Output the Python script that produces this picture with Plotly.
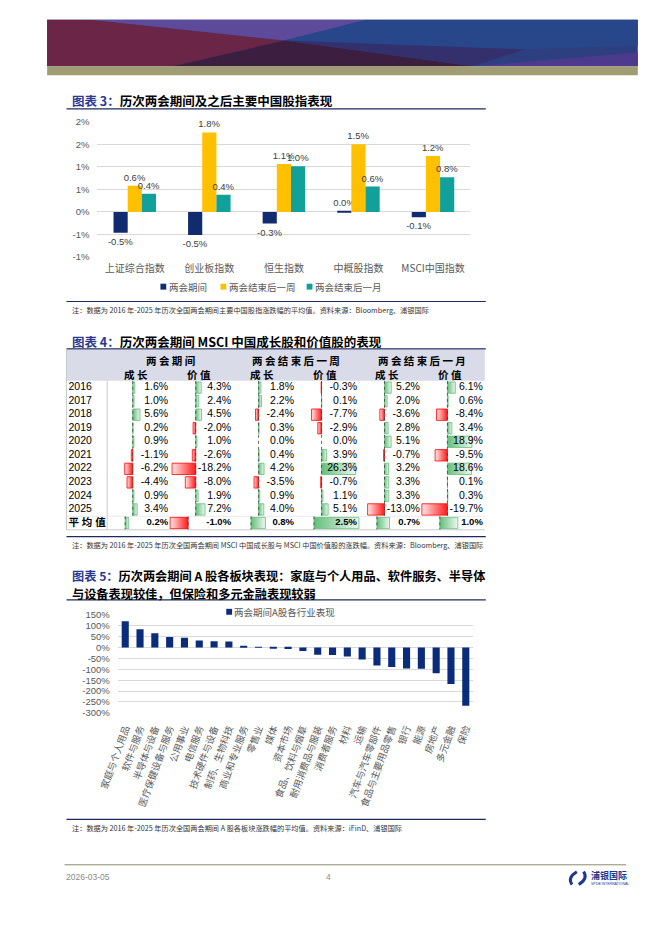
import plotly.graph_objects as go

# ======================= DATA =======================
# Figure 3: average index performance (%)
index_names = ["上证综合指数", "创业板指数", "恒生指数", "中概股指数", "MSCI中国指数"]
series1_names = ["两会期间", "两会结束后一周", "两会结束后一月"]
idx_during = [-0.46, -0.51, -0.26, 0.02, -0.12]
idx_week = [0.58, 1.76, 1.06, 1.50, 1.24]
idx_month = [0.40, 0.38, 1.01, 0.56, 0.77]
y1_tickvals = [-1.0, -0.5, 0.0, 0.5, 1.0, 1.5, 2.0]
y1_ticktext = ["-1%", "-1%", "0%", "1%", "1%", "2%", "2%"]

# Figure 4: MSCI China growth / value (%)
years = ["2016", "2017", "2018", "2019", "2020", "2021", "2022", "2023", "2024", "2025"]
group_headers = ["两 会 期 间", "两 会 结 束 后 一 周", "两 会 结 束 后 一 月"]
sub_headers = ["成 长", "价 值"]
growth_during = [1.6, 1.0, 5.6, 0.2, 0.9, -1.1, -6.2, -4.4, 0.9, 3.4]
value_during = [4.3, 2.4, 4.5, -2.0, 1.0, -2.6, -18.2, -8.0, 1.9, 7.2]
growth_week = [1.8, 2.2, -2.4, 0.3, 0.0, 0.4, 4.2, -3.5, 0.9, 4.0]
value_week = [-0.3, 0.1, -7.7, -2.9, 0.0, 3.9, 26.3, -0.7, 1.1, 5.1]
growth_month = [5.2, 2.0, -3.6, 2.8, 5.1, -0.7, 3.2, 3.3, 3.3, -13.0]
value_month = [6.1, 0.6, -8.4, 3.4, 18.9, -9.5, 18.6, 0.1, 0.3, -19.7]
avg_label = "平 均 值"
averages = [0.2, -1.0, 0.8, 2.5, 0.7, 1.0]

# Figure 5: A-share sectors (%)
sectors = ["家庭与个人用品", "软件与服务", "半导体与设备", "医疗保健设备与服务", "公用事业",
           "电信服务", "技术硬件与设备", "制药、生物科技", "商业和专业服务", "零售业", "媒体",
           "资本市场", "食品、饮料与烟草", "耐用消费品与服装", "消费者服务", "材料", "运输",
           "汽车与汽车零部件", "食品与主要用品零售", "银行", "能源", "房地产", "多元金融", "保险"]
sector_values = [120, 83, 65, 48, 45, 32, 29, 27, 5, 1, -2, -7, -16, -33, -35, -41, -55,
                 -83, -89, -97, -98, -118, -167, -267]
y3_tickvals = [150, 100, 50, 0, -50, -100, -150, -200, -250, -300]
y3_ticktext = [f"{v}%" for v in y3_tickvals]

# ======================= STYLE / LAYOUT =======================
W, H = 662, 936
CJK = "Noto Sans CJK SC"
LAT = "Liberation Sans, Noto Sans CJK SC"
NAVY_LINE = "#1F2A5A"
TITLE_BLUE = "#2B3990"


def fx(x):
    return x / W


def fy(y):
    return 1 - y / H


fig = go.Figure()
shapes = []
annotations = []


def ann(x, y, text, size, color="#000000", xanchor="left", family=CJK, yanchor="middle"):
    annotations.append(dict(x=fx(x), y=fy(y), xref="paper", yref="paper", text=text,
                            showarrow=False, xanchor=xanchor, yanchor=yanchor, borderpad=0,
                            align="left", font=dict(size=size, color=color, family=family)))


def hline(x0, x1, y, color=NAVY_LINE, width=1.2):
    shapes.append(dict(type="line", xref="paper", yref="paper", x0=fx(x0), x1=fx(x1),
                       y0=fy(y), y1=fy(y), line=dict(color=color, width=width)))


def vline(x, y0, y1, color="#BFBFBF", width=0.8):
    shapes.append(dict(type="line", xref="paper", yref="paper", x0=fx(x), x1=fx(x),
                       y0=fy(y0), y1=fy(y1), line=dict(color=color, width=width)))


def poly(pts, color):
    path = "M" + " L".join(f"{fx(a):.5f},{fy(b):.5f}" for a, b in pts) + " Z"
    shapes.append(dict(type="path", xref="paper", yref="paper", path=path,
                       fillcolor=color, line=dict(width=0), layer="below"))


def rect(x0, y0, x1, y1, color):
    shapes.append(dict(type="rect", xref="paper", yref="paper", x0=fx(x0), x1=fx(x1),
                       y0=fy(y1), y1=fy(y0), fillcolor=color,
                       line=dict(width=0), layer="below"))


# ---------------- header banner ----------------
BX0, BX1 = 27, 637
rect(BX0, 14, BX1, 61, "#2E3F80")
poly([(BX0, 14), (72, 14), (272, 35), (157, 61), (BX0, 61)], "#6A2547")
poly([(72, 14), (357, 14), (272, 35)], "#5D4A9B")
poly([(357, 14), (BX1, 14), (BX1, 40), (520, 44), (272, 35)], "#27478A")
poly([(157, 61), (272, 35), (467, 61)], "#3C1F40")
poly([(272, 35), (520, 44), (467, 61)], "#34306E")
poly([(467, 61), (BX1, 47), (BX1, 61)], "#4C3A8C")
rect(BX0, 61, BX1, 70, "#A09C74")

# ---------------- section titles & lines ----------------
ann(52, 96, f"<b><span style='color:{TITLE_BLUE}'>图表 3：</span>历次两会期间及之后主要中国股指表现</b>", 12.5)
hline(47, 480, 104)
hline(47, 480, 299)
ann(52, 308, "注：数据为 2016 年-2025 年历次全国两会期间主要中国股指涨跌幅的平均值。资料来源：Bloomberg、浦银国际", 7.2, "#333333")

ann(52, 339, f"<b><span style='color:{TITLE_BLUE}'>图表 4：</span>历次两会期间 MSCI 中国成长股和价值股的表现</b>", 12.5)
hline(47, 480, 347)
hline(47, 480, 537)
ann(52, 545, "注：数据为 2016 年-2025 年历次全国两会期间 MSCI 中国成长股与 MSCI 中国价值股的涨跌幅。资料来源：Bloomberg、浦银国际", 7.2, "#333333")

ann(52, 576.5, f"<b><span style='color:{TITLE_BLUE}'>图表 5：</span>历次两会期间 A 股各板块表现：家庭与个人用品、软件服务、半导体</b>", 12.2)
ann(52, 594.5, "<b>与设备表现较佳，但保险和多元金融表现较弱</b>", 12.2)
hline(47, 480, 601)
hline(47, 480, 823)
ann(52, 832, "注：数据为 2016 年-2025 年历次全国两会期间 A 股各板块涨跌幅的平均值。资料来源：iFinD、浦银国际", 7.2, "#333333")

# ---------------- Chart 1 (figure 3) ----------------
colors1 = ["#102B6E", "#FFC000", "#12A09A"]
for name, vals, col in zip(series1_names, [idx_during, idx_week, idx_month], colors1):
    fig.add_trace(go.Bar(
        x=index_names, y=vals, name=name, marker=dict(color=col, line=dict(width=0)),
        text=[f"{v:.1f}%" for v in vals], textposition="outside", constraintext="none",
        textfont=dict(size=9.5, color="#404040", family=LAT), cliponaxis=False,
        xaxis="x", yaxis="y", showlegend=False, hoverinfo="skip"))

# manual legend for chart 1
leg1_x = [147, 209, 298]
for name, col, x in zip(series1_names, colors1, leg1_x):
    rect(x - 3, 281, x + 3, 287, col)
    ann(x + 5, 284, name, 9.5, "#595959")

# ---------------- Table (figure 4) ----------------
TX0, TX1 = 47, 479
YEARW, CELLW = 42, 65
PX_PER_UNIT = 1.34
COLW = CELLW / PX_PER_UNIT
YEARU = YEARW / PX_PER_UNIT
TY0, ROWH = 379.3, 13.7
NROWS = len(years) + 1
TY1 = TY0 + NROWS * ROWH

table_cols = [growth_during, value_during, growth_week, value_week, growth_month, value_month]
all_vals = [v for c in table_cols for v in c]
axis_off = -min(all_vals)
avg_scale = COLW / (max(averages) - min(averages))
avg_axis = -min(averages) * avg_scale

# header background
rect(TX0, 348, TX1, TY0, "#D9DCE8")
for g, name in enumerate(group_headers):
    cx = TX0 + YEARW + CELLW * (2 * g + 1)
    ann(cx, 358.5, f"<b>{name}</b>", 10.5, "#000000", xanchor="center")
    for s, sub in enumerate(sub_headers):
        sx = TX0 + YEARW + CELLW * (2 * g + s) + CELLW / 2 - 3
        ann(sx, 372.5, f"<b>{sub}</b>", 10.5, "#000000", xanchor="center")

# borders
vline(TX0, 348, TY1)
vline(TX0 + YEARW, TY0, TY1)
hline(TX0, TX1, TY1, color="#BFBFBF", width=0.8)
hline(TX0, TX1, TY0 + (NROWS - 1) * ROWH, color="#D9D9D9", width=0.6)

HB = 0.42


def data_bar(x0, x1, r):
    pos = x1 > x0
    lo, hi = min(x0, x1), max(x0, x1)
    if pos:
        scale = [[0, "#63BE7B"], [1, "#EEF8F1"]]
        edge = "#63BE7B"
    else:
        scale = [[0, "#FFE8E8"], [1, "#FF1A1A"]]
        edge = "#FF0000"
    fig.add_trace(go.Scatter(
        x=[lo, hi, hi, lo, lo], y=[r - HB, r - HB, r + HB, r + HB, r - HB],
        mode="lines", fill="toself", line=dict(color=edge, width=0.8),
        fillgradient=dict(type="horizontal", colorscale=scale),
        xaxis="x2", yaxis="y2", showlegend=False, hoverinfo="skip"))


for k, col in enumerate(table_cols):
    base = k * COLW + axis_off
    for r, v in enumerate(col):
        if v != 0:
            data_bar(base, base + v, r)
    shapes.append(dict(type="line", xref="x2", yref="y2", x0=base, x1=base, y0=-0.5,
                       y1=len(years) - 0.5, line=dict(color="#404040", width=0.8, dash="dot")))
for k, v in enumerate(averages):
    base = k * COLW + avg_axis
    r = len(years)
    if v != 0:
        data_bar(base, base + v * avg_scale, r)
    shapes.append(dict(type="line", xref="x2", yref="y2", x0=base, x1=base, y0=r - 0.5,
                       y1=r + 0.5, line=dict(color="#404040", width=0.8, dash="dot")))

# numbers
for k, col in enumerate(table_cols):
    fig.add_trace(go.Scatter(
        x=[(k + 1) * COLW - 1.5] * len(col), y=list(range(len(col))),
        text=[f"{v:.1f}%" for v in col], mode="text", textposition="middle left",
        textfont=dict(size=10.5, color="#000000", family=LAT),
        xaxis="x2", yaxis="y2", showlegend=False, hoverinfo="skip", cliponaxis=False))
fig.add_trace(go.Scatter(
    x=[(k + 1) * COLW - 1.5 for k in range(len(averages))], y=[len(years)] * len(averages),
    text=[f"<b>{v:.1f}%</b>" for v in averages], mode="text", textposition="middle left",
    textfont=dict(size=9.5, color="#000000", family=LAT),
    xaxis="x2", yaxis="y2", showlegend=False, hoverinfo="skip", cliponaxis=False))
fig.add_trace(go.Scatter(
    x=[-YEARU + 1.5] * NROWS, y=list(range(NROWS)),
    text=years + [f"<b>{avg_label}</b>"], mode="text", textposition="middle right",
    textfont=dict(size=10.5, color="#000000", family=LAT),
    xaxis="x2", yaxis="y2", showlegend=False, hoverinfo="skip", cliponaxis=False))

# ---------------- Chart 3 (figure 5) ----------------
BAR3 = "#0B2C7A"
fig.add_trace(go.Bar(x=sectors, y=sector_values, width=0.48, marker=dict(color=BAR3, line=dict(width=0)),
                     name="两会期间A股各行业表现", xaxis="x3", yaxis="y3", showlegend=False,
                     hoverinfo="skip"))
rect(212, 610, 218, 616, BAR3)
ann(219, 613, "两会期间A股各行业表现", 9.5, "#595959")

# ---------------- footer ----------------
hline(45, 625, 869, color="#8E8B6E", width=1)
ann(45, 881, "2026-03-05", 8.5, "#8C8C8C", family=LAT)
ann(318, 881, "4", 8.5, "#8C8C8C", family=LAT, xanchor="center")
shapes.append(dict(type="path", xref="paper", yref="paper",
                   path=f"M{fx(574):.5f},{fy(876):.5f} Q{fx(564):.5f},{fy(882):.5f} {fx(569):.5f},{fy(889):.5f}",
                   line=dict(color="#1B3A8C", width=3)))
shapes.append(dict(type="path", xref="paper", yref="paper",
                   path=f"M{fx(576):.5f},{fy(889):.5f} Q{fx(586):.5f},{fy(883):.5f} {fx(581):.5f},{fy(876):.5f}",
                   line=dict(color="#1B3A8C", width=3)))
ann(588, 880, "<b>浦银国际</b>", 9, "#1B3A8C")
ann(588, 888.5, "SPDB INTERNATIONAL", 3.5, "#1B3A8C", family=LAT)

# ======================= LAYOUT =======================
tick_gray = "#595959"
fig.update_layout(
    width=W, height=H, margin=dict(l=0, r=0, t=0, b=0),
    paper_bgcolor="white", plot_bgcolor="rgba(0,0,0,0)",
    barmode="group", bargap=0.43, bargroupgap=0,
    font=dict(family=CJK, size=10, color="#000000"),
    xaxis=dict(domain=[fx(79), fx(464)], anchor="y", showgrid=False, showline=False,
               ticks="", tickfont=dict(size=10, color=tick_gray, family=CJK),
               ticklabelstandoff=4, fixedrange=True),
    yaxis=dict(domain=[fy(254), fy(117)], anchor="x", range=[-1.0, 2.0],
               tickvals=y1_tickvals, ticktext=y1_ticktext, showgrid=True,
               gridcolor="#D9D9D9", gridwidth=1, zeroline=False, showline=False, ticks="",
               tickfont=dict(size=9.5, color=tick_gray, family=LAT), ticklabelstandoff=7,
               fixedrange=True),
    xaxis2=dict(domain=[fx(TX0), fx(TX1)], anchor="y2", range=[-YEARU, 6 * COLW],
                visible=False, fixedrange=True),
    yaxis2=dict(domain=[fy(TY1), fy(TY0)], anchor="x2", range=[NROWS - 0.5, -0.5],
                visible=False, fixedrange=True),
    xaxis3=dict(domain=[fx(100), fx(467)], anchor="y3", showgrid=False, showline=False,
                ticks="", tickangle=-70, tickfont=dict(size=9.5, color=tick_gray, family=CJK),
                ticklabelstandoff=7, fixedrange=True),
    yaxis3=dict(domain=[fy(715.3), fy(616)], anchor="x3", range=[-300, 150],
                tickvals=y3_tickvals, ticktext=y3_ticktext, showgrid=True,
                gridcolor="#D9D9D9", zeroline=False, showline=False, ticks="",
                tickfont=dict(size=9.5, color=tick_gray, family=LAT), ticklabelstandoff=7,
                fixedrange=True),
    shapes=shapes, annotations=annotations,
)

fig.write_html("out.html", config={"displayModeBar": False},
               post_script="document.body.style.margin='0px';")
